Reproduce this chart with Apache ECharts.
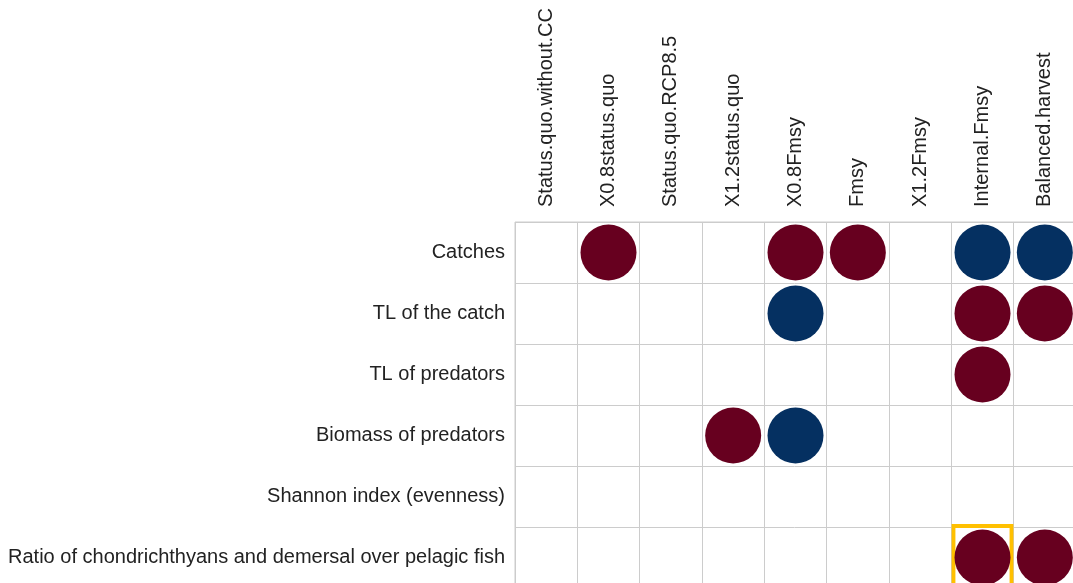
<!DOCTYPE html>
<html>
<head>
<meta charset="utf-8">
<title>Scenario indicators</title>
<script src="https://cdn.jsdelivr.net/npm/echarts@6/dist/echarts.min.js"></script>
<style>
  html, body { margin: 0; padding: 0; background: #fff; }
  #chart { width: 1073px; height: 583px; }
</style>
</head>
<body>
<div id="chart"></div>
<script>
// columns (scenarios) and rows (indicators)
const scenarios = ['Status.quo.without.CC', 'X0.8status.quo', 'Status.quo.RCP8.5', 'X1.2status.quo',
  'X0.8Fmsy', 'Fmsy', 'X1.2Fmsy', 'Internal.Fmsy', 'Balanced.harvest'];
const indicators = ['Catches', 'TL of the catch', 'TL of predators', 'Biomass of predators',
  'Shannon index (evenness)', 'Ratio of chondrichthyans and demersal over pelagic fish'];

// -1 = dark red, 1 = dark blue, 0 = empty cell
const catches = [0, -1, 0, 0, -1, -1, 0, 1, 1];
const tlCatch = [0, 0, 0, 0, 1, 0, 0, -1, -1];
const tlPredators = [0, 0, 0, 0, 0, 0, 0, -1, 0];
const biomassPredators = [0, 0, 0, -1, 1, 0, 0, 0, 0];
const shannon = [0, 0, 0, 0, 0, 0, 0, 0, 0];
const ratioChondr = [0, 0, 0, 0, 0, 0, 0, -1, -1];

// highlighted cell [scenario, indicator]
const highlight = [['Internal.Fmsy', 'Ratio of chondrichthyans and demersal over pelagic fish']];

const rows = [catches, tlCatch, tlPredators, biomassPredators, shannon, ratioChondr];
const points = [];
rows.forEach((vals, r) => {
  vals.forEach((v, c) => {
    if (v !== 0) points.push([scenarios[c], indicators[r], v]);
  });
});

const chart = echarts.init(document.getElementById('chart'));
const font = 'Liberation Sans, Arial, sans-serif';
chart.setOption({
  animation: false,
  grid: {
    left: 515, top: 222, width: 561, height: 366,
    outerBoundsMode: 'none',
    show: true, borderColor: '#cccccc', borderWidth: 1
  },
  xAxis: {
    type: 'category',
    position: 'top',
    data: scenarios,
    axisLine: { show: false },
    axisTick: { show: false },
    axisLabel: { rotate: -90, margin: 15, fontSize: 20, color: '#222', fontFamily: font },
    splitLine: { show: true, lineStyle: { color: '#cccccc', width: 1 } }
  },
  yAxis: {
    type: 'category',
    inverse: true,
    data: indicators,
    axisLine: { show: false },
    axisTick: { show: false },
    axisLabel: { margin: 10, fontSize: 20, color: '#222', fontFamily: font },
    splitLine: { show: true, lineStyle: { color: '#cccccc', width: 1 } }
  },
  series: [
    {
      type: 'scatter',
      data: highlight,
      symbol: 'rect',
      symbolSize: [58, 63],
      z: 1,
      itemStyle: { color: 'rgba(0,0,0,0)', borderColor: '#FFC000', borderWidth: 4, opacity: 1 }
    },
    {
      type: 'scatter',
      data: points,
      symbol: 'circle',
      symbolSize: d => 56 * Math.abs(d[2]),
      z: 2,
      itemStyle: {
        opacity: 1,
        color: p => (p.value[2] < 0 ? '#67001F' : '#053061')
      }
    }
  ]
});
</script>
</body>
</html>
